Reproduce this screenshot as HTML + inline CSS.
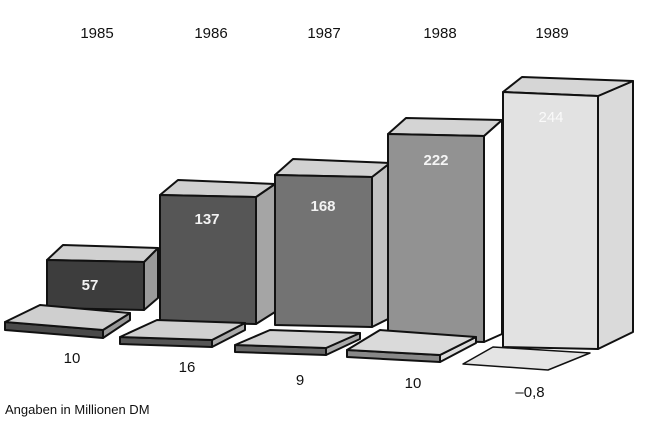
<!DOCTYPE html>
<html><head><meta charset="utf-8"><style>
html,body{margin:0;padding:0;background:#fff;}
svg{display:block;}
text{font-family:"Liberation Sans",sans-serif;}
</style></head><body>
<svg width="650" height="427" viewBox="0 0 650 427" xmlns="http://www.w3.org/2000/svg">
<rect width="650" height="427" fill="#fff"/>
<g stroke="#111" stroke-width="2" stroke-linejoin="round">
<!-- bar1 -->
<polygon points="144,262 158,248 158,298 144,310" fill="#9a9a9a"/>
<polygon points="47,260 63,245 158,248 144,262" fill="#d0d0d0"/>
<polygon points="47,260 144,262 144,310 47,308" fill="#3d3d3d"/>
<!-- slab1 -->
<polygon points="5,322 103,330 103,338 5,330" fill="#4a4a4a"/>
<polygon points="103,330 130,313 130,320 103,338" fill="#999"/>
<polygon points="5,322 40,305 130,313 103,330" fill="#cfcfcf"/>
<!-- bar2 -->
<polygon points="256,197 275,184 275,312 256,324" fill="#a5a5a5"/>
<polygon points="160,195 178,180 275,184 256,197" fill="#d0d0d0"/>
<polygon points="160,195 256,197 256,324 160,322" fill="#565656"/>
<!-- slab2 -->
<polygon points="120,337 212,340 212,347 120,344" fill="#555"/>
<polygon points="212,340 245,323 245,330 212,347" fill="#aaa"/>
<polygon points="120,337 157,320 245,323 212,340" fill="#d0d0d0"/>
<!-- bar3 -->
<polygon points="372,177 390,163 390,318 372,327" fill="#c0c0c0"/>
<polygon points="275,175 293,159 390,163 372,177" fill="#d2d2d2"/>
<polygon points="275,175 372,177 372,327 275,325" fill="#737373"/>
<!-- slab3 -->
<polygon points="235,345 326,348 326,355 235,352" fill="#666"/>
<polygon points="326,348 360,333 360,339 326,355" fill="#aaa"/>
<polygon points="235,345 270,330 360,333 326,348" fill="#d2d2d2"/>
<!-- bar4 -->
<polygon points="484,136 502,120 502,334 484,342" fill="#ffffff"/>
<polygon points="388,134 406,118 502,120 484,136" fill="#d4d4d4"/>
<polygon points="388,134 484,136 484,342 388,340" fill="#929292"/>
<!-- slab4 -->
<polygon points="347,350 440,355 440,362 347,357" fill="#888"/>
<polygon points="440,355 476,337 476,343 440,362" fill="#ddd"/>
<polygon points="347,350 380,330 476,337 440,355" fill="#dadada"/>
<!-- bar5 -->
<polygon points="598,96 633,81 633,332 598,349" fill="#dadada"/>
<polygon points="503,92 522,77 633,81 598,96" fill="#d6d6d6"/>
<polygon points="503,92 598,96 598,349 503,347" fill="#e2e2e2"/>
<!-- slab5 -->
<polygon points="463,364 493,347 590,353 548,370" fill="#e4e4e4" stroke-width="1.5"/>
</g>
<g font-size="15" fill="#111" text-anchor="middle">
<text x="97" y="38">1985</text>
<text x="211" y="38">1986</text>
<text x="324" y="38">1987</text>
<text x="440" y="38">1988</text>
<text x="552" y="38">1989</text>
<text x="72" y="363">10</text>
<text x="187" y="372">16</text>
<text x="300" y="385">9</text>
<text x="413" y="388">10</text>
<text x="530" y="397">–0,8</text>
</g>
<g font-size="15" font-weight="bold" text-anchor="middle">
<text x="90" y="290" fill="#f2f2f2">57</text>
<text x="207" y="224" fill="#f2f2f2">137</text>
<text x="323" y="211" fill="#f2f2f2">168</text>
<text x="436" y="165" fill="#f5f5f5">222</text>
<text x="551" y="122" fill="#fafafa" font-weight="normal">244</text>
</g>
<text x="5" y="414" font-size="13" fill="#111">Angaben in Millionen DM</text>
</svg>
</body></html>
